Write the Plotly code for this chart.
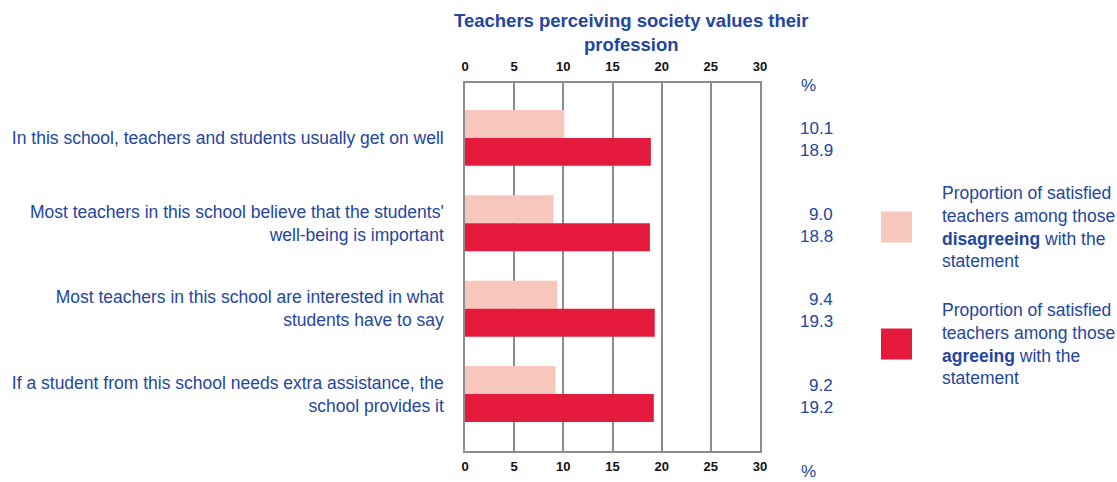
import plotly.graph_objects as go

statements = [
    "In this school, teachers and students usually get on well",
    "Most teachers in this school believe that the students'<br>well-being is important",
    "Most teachers in this school are interested in what<br>students have to say",
    "If a student from this school needs extra assistance, the<br>school provides it",
]
disagreeing = [10.1, 9.0, 9.4, 9.2]
agreeing = [18.9, 18.8, 19.3, 19.2]
x_ticks = [0, 5, 10, 15, 20, 25, 30]

BLUE = "#2446a0"
LIGHT = "#f7c6bc"
DARK = "#e4193b"
GRID = "#8c8c8c"
FONT = "Liberation Sans, Arial, sans-serif"

pos = list(range(len(statements)))

fig = go.Figure()
fig.add_trace(go.Bar(y=pos, x=disagreeing, orientation="h", marker_color=LIGHT,
                     marker_line_width=0, name="disagreeing", showlegend=False))
fig.add_trace(go.Bar(y=pos, x=agreeing, orientation="h", marker_color=DARK,
                     marker_line_width=0, name="agreeing", showlegend=False))
# invisible trace so the top axis is drawn
fig.add_trace(go.Scatter(x=[0, 30], y=[0, 0], xaxis="x2", mode="markers",
                         marker_opacity=0, hoverinfo="skip", showlegend=False))

tick_font = dict(family=FONT, size=13, color="#111", weight="bold")
axis_common = dict(range=[0, 30], tickvals=x_ticks, ticks="", showgrid=True,
                   gridcolor=GRID, gridwidth=1.5, zeroline=False, tickfont=tick_font,
                   tickformat="d", automargin=False)
fig.update_layout(
    width=1117, height=482,
    margin=dict(l=465, r=357, t=83, b=31),
    paper_bgcolor="white", plot_bgcolor="white",
    barmode="group", bargap=0.345, bargroupgap=0,
    font=dict(family=FONT, color=BLUE),
    xaxis=dict(**axis_common, showline=True, linecolor=GRID, linewidth=1.5, mirror=True,
               ticklabelstandoff=3),
    xaxis2=dict(**axis_common, overlaying="x", side="top", anchor="y", showline=False,
                ticklabelstandoff=8),
    yaxis=dict(range=[3.667, -0.643], tickvals=pos, ticktext=statements,
               ticks="", showgrid=False, zeroline=False, automargin=False,
               showline=True, linecolor=GRID, linewidth=1.5, mirror=True,
               ticklabelstandoff=16,
               tickfont=dict(family=FONT, size=17.5, color=BLUE)),
)

# value labels on the right
for i in pos:
    fig.add_annotation(x=1.255, xref="paper", y=i, yref="y", yshift=9,
                       text=f"{disagreeing[i]:.1f}", showarrow=False,
                       xanchor="right", yanchor="middle",
                       font=dict(family=FONT, size=17, color=BLUE))
    fig.add_annotation(x=1.255, xref="paper", y=i, yref="y", yshift=-13,
                       text=f"{agreeing[i]:.1f}", showarrow=False,
                       xanchor="right", yanchor="middle",
                       font=dict(family=FONT, size=17, color=BLUE))

for yy in (0.992, -0.057):
    fig.add_annotation(x=1.163, xref="paper", y=yy, yref="paper", text="%",
                       showarrow=False, xanchor="center", yanchor="middle",
                       font=dict(family=FONT, size=17, color=BLUE))

# title
fig.add_annotation(x=630 / 1117, xref="paper", y=(451 - 32) / 368, yref="paper",
                   text="<b>Teachers perceiving society values their<br>profession</b>",
                   showarrow=False, xanchor="center", yanchor="middle",
                   font=dict(family=FONT, size=18.5, color=BLUE))

# legend
legend_items = [
    (LIGHT, "Proportion of satisfied<br>teachers among those<br><b>disagreeing</b> with the<br>statement", 227),
    (DARK, "Proportion of satisfied<br>teachers among those<br><b>agreeing</b> with the<br>statement", 344),
]
for color, label, cy in legend_items:
    fig.add_shape(type="rect", xref="paper", yref="paper",
                  x0=(881 - 465) / 295, x1=(912 - 465) / 295,
                  y0=(451 - (cy + 15.5)) / 368, y1=(451 - (cy - 15.5)) / 368,
                  fillcolor=color, line_width=0)
    fig.add_annotation(x=(940 - 465) / 295, xref="paper", y=(451 - cy) / 368, yref="paper",
                       text=label, showarrow=False, xanchor="left", yanchor="middle",
                       align="left", font=dict(family=FONT, size=17.5, color=BLUE))

fig.write_html("out.html")
